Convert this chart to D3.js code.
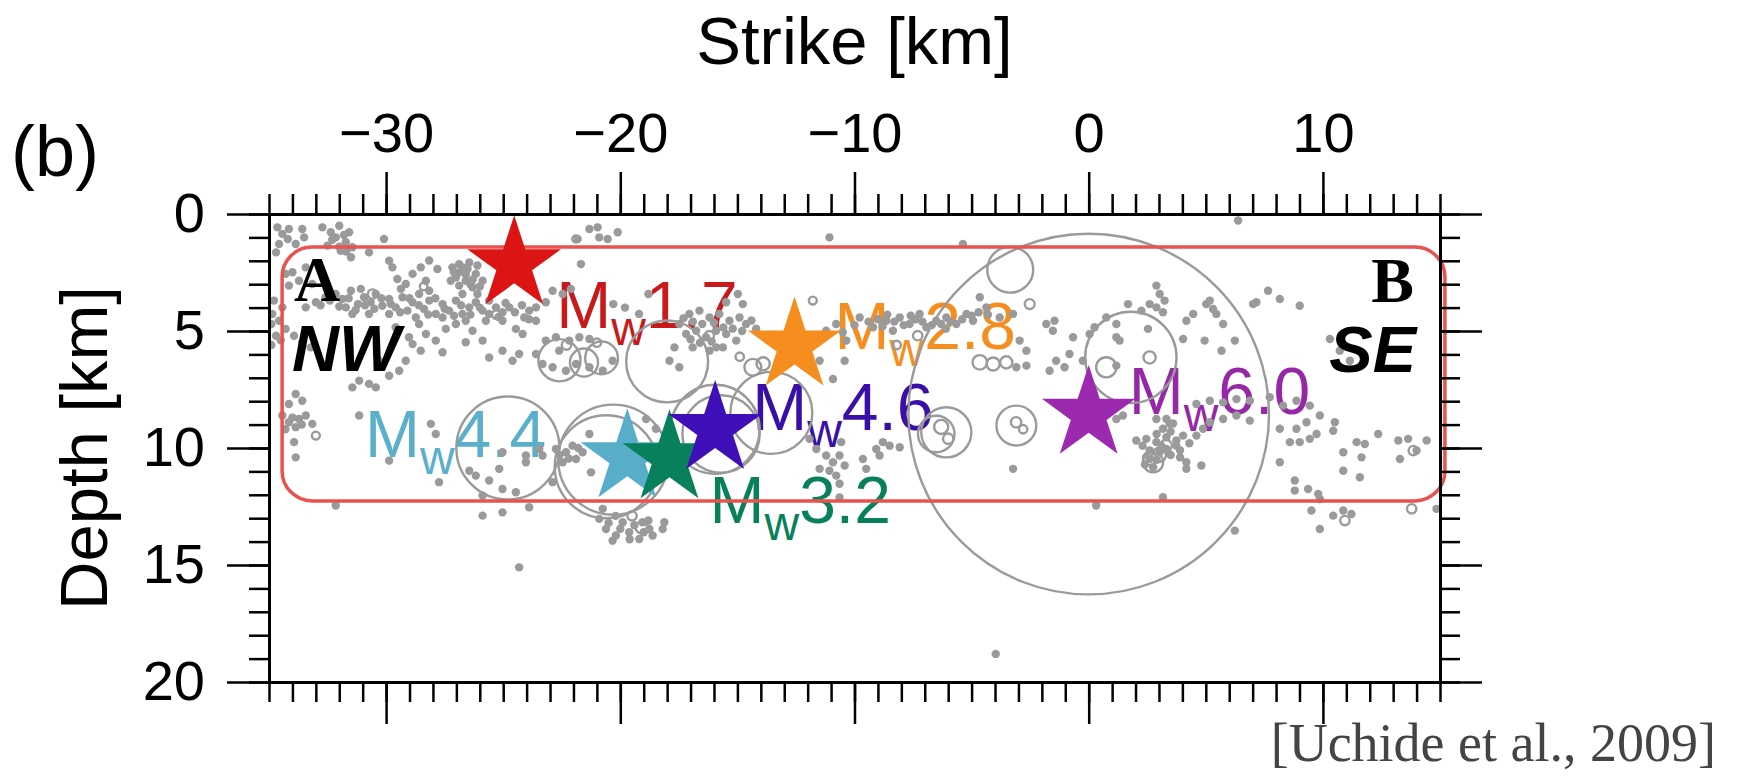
<!DOCTYPE html>
<html>
<head>
<meta charset="utf-8">
<script src="https://cdn.jsdelivr.net/npm/d3@7"></script>
<style>
body { margin: 0; background: #fff; }
svg { display: block; }
</style>
</head>
<body>
<script>
// ---- data (km along strike / depth) ----
var xMajorTicks = [-30, -20, -10, 0, 10];
var yMajorTicks = [0, 5, 10, 15, 20];

// target events: magnitude, position, colour
var eventMag = ["1.7", "2.8", "6.0", "4.4", "3.2", "4.6"];
var eventX = [-24.53, -12.56, 0.0, -19.7, -17.9, -15.95];
var eventY = [2.16, 5.63, 8.55, 10.4, 10.45, 9.2];
var eventColor = ["#dc1414", "#f68e1f", "#9b2aae", "#58aec9", "#08805c", "#3f10b7"];
var labelColor = ["#c81a1a", "#f68e1f", "#9628a8", "#5ab0cb", "#08805c", "#3a0ea8"];

// seismicity shown as open circles (x, depth, radius km)
var rings = [
  [0, 8.55, 7.7], [-3.35, 2.38, 0.98], [1.8, 6.13, 1.95],
  [-15.95, 9.2, 1.9], [-15.7, 9.4, 1.65], [-13.55, 8.5, 1.75],
  [-18.0, 6.3, 1.75], [-24.8, 10.0, 2.2], [-20.3, 10.5, 2.35], [-20.6, 10.8, 2.2],
  [-22.6, 6.25, 0.9], [-21.55, 6.35, 0.6], [-20.8, 6.15, 0.7],
  [-6.08, 9.33, 1.07], [-6.51, 9.4, 0.78], [-6.3, 9.1, 0.3], [-6.0, 9.6, 0.22],
  [-3.09, 9.04, 0.85], [-3.1, 8.9, 0.22], [-2.8, 9.2, 0.18],
  [-4.65, 6.34, 0.31], [-4.08, 6.41, 0.28], [-3.52, 6.34, 0.26],
  [-11.78, 3.7, 0.17], [-2.52, 3.85, 0.21], [-14.34, 6.55, 0.36], [-13.9, 6.4, 0.28],
  [0.75, 6.55, 0.43], [2.6, 6.13, 0.26], [2.75, 10.61, 0.43], [2.6, 10.45, 0.28],
  [13.86, 10.11, 0.2], [13.79, 12.6, 0.2], [10.94, 13.1, 0.2],
  [-33.0, 9.47, 0.17], [-30.58, 3.42, 0.2], [-21.9, 1.07, 0.15],
  [-22.3, 5.6, 0.2], [-21.0, 5.5, 0.18], [-16.2, 5.2, 0.2], [-14.9, 6.1, 0.18],
  [-7.3, 5.2, 0.2], [-8.2, 5.6, 0.18], [3.3, 9.9, 0.25], [3.0, 10.3, 0.3],
  [-25.3, 4.3, 0.18], [-28.4, 3.1, 0.16], [-19.5, 12.9, 0.2], [-19.1, 13.4, 0.25]
];

// small events shown as dots
var dotsNW = [
  [-34.64,0.57],[-34.43,0.85],[-34.57,1.28],[-34.2,1.07],[-34.7,1.64],[-34.15,0.64],
  [-32.72,0.57],[-32.36,0.78],[-32.0,0.5],[-32.15,1.0],[-31.72,1.21],[-32.5,1.35],[-31.94,1.57],
  [-31.5,1.85],[-31.58,0.78],[-31.44,1.42],[-33.5,1.0],[-33.58,0.64],[-33.86,1.28],
  [-32.3,1.1],[-31.8,0.9],[-32.0,1.4],[-31.7,1.6],
  [-30.09,1.07],[-30.73,1.64],[-29.87,2.0],
  [-34.0,2.49],[-33.72,2.85],[-33.43,2.28],[-34.15,3.06],[-33.15,2.99],[-34.29,2.56],
  [-32.15,3.42],[-31.87,3.63],[-31.5,3.28],[-31.2,3.85],[-30.94,3.56],[-30.66,3.77],[-30.44,3.42],
  [-30.16,3.92],[-29.87,3.63],[-29.59,3.99],[-29.3,3.56],[-29.09,4.13],[-28.87,3.77],[-28.59,3.42],
  [-28.38,4.06],[-28.16,3.7],[-27.88,4.27],[-27.59,3.85],[-27.31,4.13],[-27.02,3.7],[-26.74,4.27],
  [-26.45,3.99],[-26.17,3.77],[-25.88,4.13],[-25.6,4.27],[-25.31,3.99],[-25.03,4.2],[-24.74,3.99],
  [-31.72,3.99],[-30.73,4.27],[-29.87,4.27],[-28.73,4.42],[-27.59,4.42],[-26.6,4.56],[-25.74,4.56],
  [-25.03,4.56],[-31.44,4.27],[-28.16,3.28],[-29.37,3.2],[-31.08,3.2],[-32.58,3.56],[-33.0,3.77],[-33.43,3.99],
  [-32.8,3.9],[-32.4,3.7],[-32.0,3.95],[-31.6,3.6],[-31.3,4.1],[-30.9,3.9],[-30.5,4.05],[-30.2,3.6],
  [-29.8,3.85],[-29.4,4.2],[-29.0,3.6],[-28.6,3.9],[-28.2,4.3],[-27.9,3.6],[-27.5,4.05],[-27.1,4.35],
  [-26.8,3.9],[-26.4,4.3],[-26.0,4.0],[-25.6,3.7],[-25.2,4.4],[-24.9,3.8],[-24.5,4.2],[-24.2,3.9],[-23.9,4.5],
  [-29.16,2.99],[-28.87,2.56],[-28.52,2.28],[-28.3,2.85],[-29.52,2.78],[-29.73,2.28],[-28.16,1.99],[-27.81,2.35],
  [-27.17,2.28],[-26.88,2.14],[-26.52,2.35],[-26.17,2.56],[-25.88,2.85],[-27.02,2.71],[-26.6,2.85],
  [-26.31,3.13],[-26.88,3.06],[-27.24,2.85],[-26.45,2.07],[-26.74,3.42],[-26.1,3.42],
  [-26.9,2.5],[-26.6,2.6],[-26.3,2.8],[-26.7,2.3],[-27.1,2.5],[-26.4,3.0],[-26.0,3.1],[-26.1,2.2],
  [-21.82,1.07],[-21.32,0.64],[-20.9,1.0],[-20.54,1.07],[-20.11,0.78],[-20.97,0.57],[-21.68,2.14],
  [-23.89,4.13],[-23.6,3.99],[-23.18,3.77],[-22.89,3.28],[-22.46,3.42],[-22.11,3.2],[-23.6,4.56],
  [-24.1,4.42],[-24.46,4.91],[-24.17,5.13],[-20.3,3.85],[-19.8,4.0],[-19.2,4.27],[-18.8,3.42],
  [-28.3,5.13],[-27.88,5.41],[-27.45,4.91],[-27.02,4.7],[-27.59,5.91],[-26.6,5.48],[-26.31,4.99],
  [-28.87,5.56],[-28.52,5.84],[-29.16,6.27],[-29.44,6.7],[-29.87,6.91],[-30.3,6.27],[-30.73,7.26],
  [-31.15,7.12],[-31.44,7.41],[-30.44,7.41],[-25.6,6.13],[-25.03,5.84],[-24.6,6.27],[-24.32,5.98],[-25.88,5.41],
  [-34.86,4.27],[-34.57,4.56],[-34.29,4.91],[-33.93,5.2],[-33.58,5.48],[-33.22,5.7],[-34.79,3.7],[-34.43,3.99],
  [-34.9,4.7],[-34.7,5.2],[-34.9,5.6],[-34.5,5.4],
  [-29.02,5.27],[-28.59,4.7],[-29.59,4.84],[-33.86,7.69],[-34.15,8.12],[-33.58,7.98],
  [-23.18,5.41],[-22.75,5.27],[-22.18,5.41],[-21.75,5.27],[-21.32,5.34],[-22.89,6.55],[-22.32,6.7],
  [-21.89,6.41],[-21.32,6.55],[-20.75,6.7],[-20.33,6.27],[-22.61,5.84],[-23.6,5.98],[-23.32,6.41]
];

var dotsMid = [
  [-11.07,1.0],[-5.37,1.28],
  [-17.48,4.7],[-17.05,4.27],[-16.62,4.13],[-16.19,4.42],[-15.77,4.27],[-15.34,4.56],[-14.91,4.42],
  [-14.63,4.7],[-17.19,5.13],[-16.76,4.99],[-16.34,5.27],[-15.91,4.99],[-15.48,5.13],[-15.05,5.41],
  [-16.91,5.7],[-16.19,5.84],[-15.62,5.7],[-17.69,5.7],[-17.9,6.27],[-17.48,6.55],[-14.77,3.85],
  [-14.98,3.42],[-15.48,3.77],
  [-17.3,4.45],[-16.9,4.6],[-16.5,4.7],[-16.0,4.65],[-15.6,4.85],[-15.2,4.9],[-14.8,5.0],[-16.6,5.5],
  [-16.1,5.45],[-15.9,5.7],[-17.0,5.35],[-14.4,4.55],[-14.2,4.9],
  [-11.21,4.99],[-10.78,4.7],[-10.35,5.41],[-9.78,4.42],[-9.21,4.84],[-8.64,4.56],[-8.36,4.99],
  [-8.07,4.42],[-7.65,4.7],[-7.22,4.27],[-6.93,4.84],[-6.51,4.56],[-6.08,4.42],[-5.65,4.7],[-5.22,4.27],
  [-4.94,4.56],[-4.65,3.56],[-4.37,3.99],[-3.8,4.42],[-3.23,4.27],[-2.95,5.41],[-2.66,5.84],[-1.81,4.7],
  [-9.4,4.6],[-9.0,4.5],[-8.8,4.8],[-8.3,4.6],[-7.9,4.75],[-7.4,4.5],[-7.1,4.6],[-6.7,4.75],[-6.3,4.7],
  [-5.9,4.6],[-5.4,4.5],[-5.0,4.35],[-4.7,4.2],[-4.3,4.3],[-8.6,4.3],[-7.6,4.35],[-6.1,4.9],[-10.0,4.75],[-10.5,5.05],
  [-10.92,7.05],[-11.49,6.27],[-10.42,6.27],[-3.09,6.55],[-2.66,6.48],
  [-11.92,9.61],[-11.63,10.04],[-11.21,10.32],[-10.92,10.61],[-10.64,10.32],[-10.42,10.75],[-11.07,10.97],
  [-10.78,11.18],[-10.64,11.53],[-10.64,12.11],[-11.49,10.89],[-9.64,10.47],[-9.5,10.89],[-9.07,10.04],
  [-8.79,9.75],[-8.5,9.9],[-8.07,9.97],[-8.93,10.32],[-10.57,9.75],[-3.23,10.89],[-18.12,13.17],[-18.19,13.46],
  [-3.97,18.8]
];

var dotsDeepNW = [
  [-34.43,8.61],[-34.15,8.9],[-33.72,8.76],[-33.43,8.61],[-33.86,9.11],[-33.15,8.97],[-33.93,9.75],
  [-34.0,8.7],[-33.6,9.0],[-34.3,9.2],
  [-33.86,10.4],[-31.15,8.61],[-27.74,11.46],[-32.15,12.46],[-29.87,10.54],[-28.09,8.97],[-27.88,9.4],
  [-25.88,12.89],[-25.03,12.75],[-24.32,15.1],[-25.88,12.03],[-25.03,11.75],[-24.46,11.89],[-25.6,11.39],
  [-26.17,11.18],[-26.45,10.97],[-25.17,10.89],[-24.03,10.61],[-23.89,12.53],[-22.89,11.46],[-21.32,9.4],
  [-21.25,11.04],[-24.03,10.32],[-25.03,10.18],[-23.46,10.04],[-23.32,10.32],
  [-22.75,10.04],[-22.32,10.18],[-21.89,10.47],[-22.46,10.61],[-22.04,9.9],[-21.61,10.18],
  [-22.6,10.3],[-22.2,10.45],[-21.8,10.0],
  [-20.9,13.03],[-20.61,13.46],[-20.19,13.74],[-19.62,13.6],[-19.19,13.89],[-18.76,13.46],[-20.75,12.6],
  [-19.9,13.17],[-19.05,13.17],[-18.62,13.74],[-20.33,13.96],[-18.9,8.76],[-18.48,9.18],
  [-20.5,13.2],[-20.0,13.45],[-19.4,13.3],[-19.0,13.6],[-18.8,13.1],[-20.2,12.9],[-19.6,13.9]
];

var dotsSE = [
  [6.38,0.28],[2.89,3.06],[3.03,3.42],[3.24,3.7],[2.89,3.99],[2.6,3.85],[3.17,4.2],[1.68,3.85],[2.25,4.13],
  [1.18,4.7],[0.75,4.42],[0.25,4.84],[0.04,5.13],[-0.67,5.27],[-1.46,4.56],[-1.53,4.99],[2.53,4.91],
  [4.17,4.56],[4.46,4.27],[5.02,3.85],[5.31,4.06],[5.45,4.27],[5.17,3.7],[5.74,4.7],[4.03,5.34],[4.95,5.41],
  [5.67,5.84],[6.24,5.41],[7.16,3.77],[7.66,3.28],[8.16,3.63],[9.01,3.92],[7.02,3.85],[1.18,5.27],[1.32,5.41],
  [10.3,5.34],[10.72,5.84],[11.15,6.27],[-1.39,6.27],[-1.03,6.55],[-1.67,6.7],[1.18,6.48],[-0.82,5.98],[-0.25,6.27],
  [4.6,8.12],[5.17,7.98],[5.74,8.05],[6.31,7.91],[6.88,7.98],[7.73,7.83],[8.3,8.19],[8.87,7.98],[9.44,8.19],
  [2.03,9.68],[2.46,9.61],[2.89,9.75],[3.32,9.54],[3.74,9.68],[4.03,9.47],[3.17,9.18],[3.46,8.97],[3.03,10.18],
  [2.6,10.47],[2.75,10.82],[3.32,10.04],[3.74,9.9],[4.17,10.61],[4.17,10.89],[4.81,10.75],[4.6,9.47],[4.88,9.18],
  [2.3,9.9],[2.6,10.1],[2.9,9.4],[3.1,9.9],[3.5,9.3],[3.5,10.3],[3.9,10.1],[3.9,10.4],[4.3,9.8],[2.4,10.7],
  [2.9,10.5],[3.6,8.95],
  [2.89,8.76],[3.32,8.76],[5.17,8.9],[5.74,8.76],[6.31,8.61],[6.88,8.83],[8.16,9.18],[8.87,9.18],[9.3,8.9],
  [9.87,8.61],[10.51,8.9],[10.44,9.26],[9.73,9.4],[9.44,9.61],[9.01,9.75],[8.59,9.75],[8.16,10.61],[8.8,11.39],
  [8.8,11.82],[9.37,11.75],[9.8,11.96],[9.87,12.18],[10.87,10.18],[11.65,10.4],[10.87,10.97],[11.58,11.25],
  [11.44,9.75],[11.79,9.83],[12.36,9.4],[13.22,9.68],[13.64,9.61],[14.43,9.68],[14.0,10.11],[13.29,10.47],
  [3.17,12.1],[0.32,12.46],[9.51,12.67],[9.87,13.46],[10.44,12.89],[10.87,12.67],[11.22,12.82],[14.85,12.6],
  [6.24,13.53],[1.18,8.76],[1.46,8.61]
];

// ---- layout ----
var svgWidth = 1739, svgHeight = 777;
var plot = {left: 269, right: 1440, top: 214, bottom: 682};
var sans = "'Liberation Sans', Arial, Helvetica, sans-serif";
var serif = "'Liberation Serif', 'Times New Roman', serif";
var gray = "#9a9a9a";

// label offsets from each star centre (px) and anchor
var labelDx = [42, 40, 40, -81, 40, 37];
var labelDy = [63, 3, 0, 0, 64, 1];
var labelAnchor = ["start", "start", "start", "end", "start", "start"];

var x = d3.scaleLinear().domain([-35, 15]).range([plot.left, plot.right]);
var y = d3.scaleLinear().domain([0, 20]).range([plot.top, plot.bottom]);
var kmToPx = (x(1) - x(0));

var svg = d3.select("body").append("svg")
  .attr("width", svgWidth)
  .attr("height", svgHeight)
  .style("font-family", sans);

svg.append("defs").append("clipPath").attr("id", "plotClip")
  .append("rect")
  .attr("x", plot.left).attr("y", plot.top)
  .attr("width", plot.right - plot.left).attr("height", plot.bottom - plot.top);

// event labels (drawn under the seismicity, as in the figure)
var labelG = svg.append("g");
eventMag.forEach(function(m, i) {
  var t = labelG.append("text")
    .attr("x", x(eventX[i]) + labelDx[i])
    .attr("y", y(eventY[i]) + labelDy[i])
    .attr("text-anchor", labelAnchor[i])
    .attr("fill", labelColor[i])
    .style("font-size", "66px");
  t.append("tspan").text("M");
  t.append("tspan").attr("dy", 17).style("font-size", "48px").text("w");
  t.append("tspan").attr("dy", -17).text(m);
});

// seismicity
var quakeG = svg.append("g").attr("clip-path", "url(#plotClip)");
var allDots = dotsNW.concat(dotsMid, dotsDeepNW, dotsSE);
quakeG.selectAll("circle.dot")
  .data(allDots)
  .enter()
  .append("circle")
  .attr("class", "dot")
  .attr("cx", function(d) { return x(d[0]); })
  .attr("cy", function(d) { return y(d[1]); })
  .attr("r", 4.2)
  .attr("fill", gray);

quakeG.selectAll("circle.ring")
  .data(rings)
  .enter()
  .append("circle")
  .attr("class", "ring")
  .attr("cx", function(d) { return x(d[0]); })
  .attr("cy", function(d) { return y(d[1]); })
  .attr("r", function(d) { return d[2] * kmToPx; })
  .attr("fill", "none")
  .attr("stroke", gray)
  .attr("stroke-width", 2.4);

// red rounded box
svg.append("rect")
  .attr("x", x(-34.44))
  .attr("y", y(1.41))
  .attr("width", x(15.21) - x(-34.44))
  .attr("height", y(12.26) - y(1.41))
  .attr("rx", 30).attr("ry", 30)
  .attr("fill", "none")
  .attr("stroke", "#e8524f")
  .attr("stroke-width", 3.5);

// stars
var starR = 2.1 * kmToPx;
var starPath = d3.symbol().type(d3.symbolStar).size(starR * starR / 0.8908130915292852);
svg.append("g").selectAll("path")
  .data(eventMag)
  .enter()
  .append("path")
  .attr("d", starPath)
  .attr("transform", function(d, i) { return "translate(" + x(eventX[i]) + "," + y(eventY[i]) + ")"; })
  .attr("fill", function(d, i) { return eventColor[i]; });

// end point letters
svg.append("text").attr("x", 294).attr("y", 301)
  .style("font-family", serif).style("font-weight", "bold").style("font-size", "64px")
  .text("A");
svg.append("text").attr("x", 1414).attr("y", 302).attr("text-anchor", "end")
  .style("font-family", serif).style("font-weight", "bold").style("font-size", "64px")
  .text("B");
svg.append("text").attr("x", 292).attr("y", 371)
  .style("font-weight", "bold").style("font-style", "italic").style("font-size", "65px")
  .text("NW");
svg.append("text").attr("x", 1416).attr("y", 372).attr("text-anchor", "end")
  .style("font-weight", "bold").style("font-style", "italic").style("font-size", "65px")
  .text("SE");

// axes
function styleAxis(g, labelSize) {
  g.attr("font-family", null).attr("font-size", null);
  g.select(".domain").attr("stroke", "#000").attr("stroke-width", 3);
  g.selectAll(".tick line").attr("stroke", "#000").attr("stroke-width", 2.5);
  g.selectAll(".tick text").attr("fill", "#000").style("font-size", labelSize + "px");
}

var minorX = d3.range(-35, 16);
var minorY = d3.range(0, 21);

svg.append("g").attr("transform", "translate(0," + plot.top + ")")
  .call(d3.axisTop(x).tickValues(minorX).tickSize(20).tickSizeOuter(0).tickFormat(""))
  .call(styleAxis, 56);
svg.append("g").attr("transform", "translate(0," + plot.top + ")")
  .call(d3.axisTop(x).tickValues(xMajorTicks).tickSize(42).tickSizeOuter(0).tickPadding(20))
  .call(styleAxis, 56);

svg.append("g").attr("transform", "translate(0," + plot.bottom + ")")
  .call(d3.axisBottom(x).tickValues(minorX).tickSize(20).tickSizeOuter(0).tickFormat(""))
  .call(styleAxis, 56);
svg.append("g").attr("transform", "translate(0," + plot.bottom + ")")
  .call(d3.axisBottom(x).tickValues(xMajorTicks).tickSize(42).tickSizeOuter(0).tickFormat(""))
  .call(styleAxis, 56);

svg.append("g").attr("transform", "translate(" + plot.left + ",0)")
  .call(d3.axisLeft(y).tickValues(minorY).tickSize(20).tickSizeOuter(0).tickFormat(""))
  .call(styleAxis, 56);
svg.append("g").attr("transform", "translate(" + plot.left + ",0)")
  .call(d3.axisLeft(y).tickValues(yMajorTicks).tickSize(42).tickSizeOuter(0).tickPadding(22))
  .call(styleAxis, 56);

svg.append("g").attr("transform", "translate(" + plot.right + ",0)")
  .call(d3.axisRight(y).tickValues(minorY).tickSize(20).tickSizeOuter(0).tickFormat(""))
  .call(styleAxis, 56);
svg.append("g").attr("transform", "translate(" + plot.right + ",0)")
  .call(d3.axisRight(y).tickValues(yMajorTicks).tickSize(42).tickSizeOuter(0).tickFormat(""))
  .call(styleAxis, 56);

// titles
svg.append("text")
  .attr("x", (plot.left + plot.right) / 2).attr("y", 64)
  .attr("text-anchor", "middle")
  .style("font-size", "67px")
  .text("Strike [km]");

svg.append("text")
  .attr("transform", "translate(107," + (plot.top + plot.bottom) / 2 + ") rotate(-90)")
  .attr("text-anchor", "middle")
  .style("font-size", "67px")
  .text("Depth [km]");

svg.append("text")
  .attr("x", 11).attr("y", 176)
  .style("font-size", "72px")
  .text("(b)");

svg.append("text")
  .attr("x", 1716).attr("y", 761)
  .attr("text-anchor", "end")
  .attr("fill", "#444")
  .style("font-family", serif)
  .style("font-size", "54px")
  .text("[Uchide et al., 2009]");
</script>
</body>
</html>
